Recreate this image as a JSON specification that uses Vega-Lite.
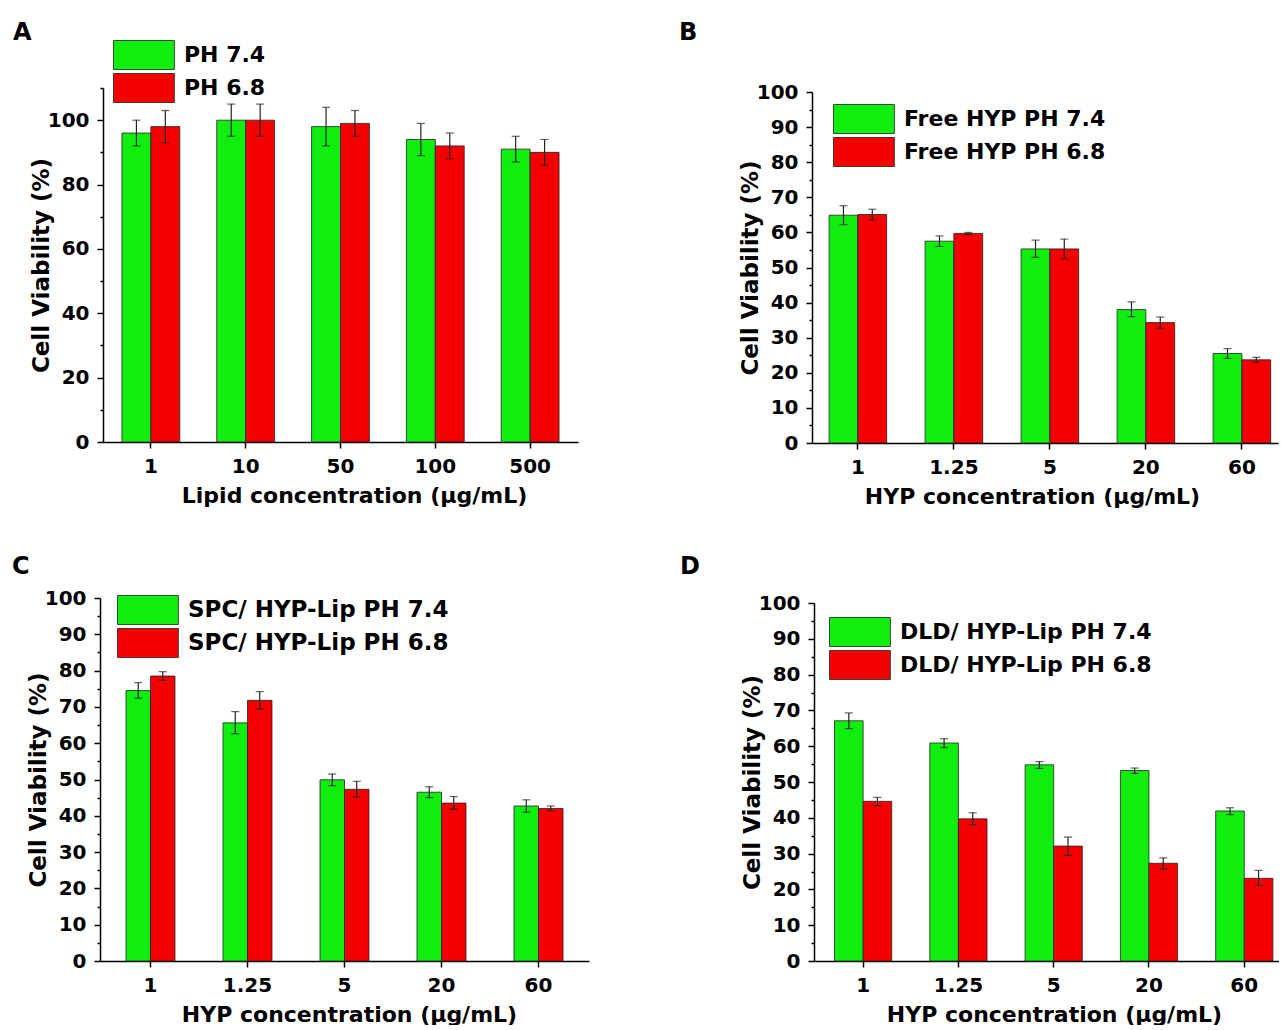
{
  "$schema": "https://vega.github.io/schema/vega-lite/v6.json",
  "padding": {"left": 12, "top": 21, "right": 0, "bottom": 0},
  "background": "white",
  "bounds": "flush",
  "spacing": 510,
  "resolve": {"scale": {"color": "independent", "x": "independent", "y": "independent", "xOffset": "independent"}, "legend": {"color": "independent"}},
  "config": {
    "font": "DejaVu Sans",
    "view": {"stroke": null},
    "axis": {"labelFont": "DejaVu Sans", "labelFontWeight": "bold", "labelFontSize": 20, "labelColor": "#000", "titleFont": "DejaVu Sans", "titleFontWeight": "bold", "titleFontSize": 22, "titleColor": "#000", "domainColor": "#000", "domainWidth": 1.5, "tickColor": "#000", "tickWidth": 1.5, "tickSize": 6, "grid": false},
    "axisX": {"labelPadding": 8, "titlePadding": 9},
    "axisY": {"titleFontSize": 23, "titlePadding": -6, "labelPadding": 8},
    "legend": {"orient": "none", "title": null, "symbolType": "M-1,-1H3.2V1H-1Z", "symbolSize": 841, "symbolStrokeColor": "#222", "symbolStrokeWidth": 1, "symbolOpacity": 1, "labelFont": "DejaVu Sans", "labelFontWeight": "bold", "labelFontSize": 22, "labelColor": "#000", "labelOffset": 41, "rowPadding": -1, "labelLimit": 600, "padding": 0},
    "title": {"anchor": "start", "frame": "group", "fontSize": 24, "fontWeight": "bold", "font": "DejaVu Sans", "color": "#000"},
    "bar": {"stroke": "#222", "strokeWidth": 0.8},
    "rule": {"color": "#222", "strokeWidth": 1.2},
    "tick": {"color": "#222", "thickness": 1.2}
  },
  "vconcat": [
    {
      "bounds": "flush",
      "spacing": 234,
      "resolve": {"scale": {"color": "independent", "x": "independent", "y": "independent", "xOffset": "independent"}, "legend": {"color": "independent"}},
      "hconcat": [
        {
          "width": 478, "height": 354,
          "title": {"text": "A", "dx": -87, "offset": -5},
          "data": {"values": [
            {"conc": "1", "series": "PH 7.4", "value": 96, "lo": 92, "hi": 100},
            {"conc": "1", "series": "PH 6.8", "value": 98, "lo": 93, "hi": 103},
            {"conc": "10", "series": "PH 7.4", "value": 100, "lo": 95, "hi": 105},
            {"conc": "10", "series": "PH 6.8", "value": 100, "lo": 95, "hi": 105},
            {"conc": "50", "series": "PH 7.4", "value": 98, "lo": 92, "hi": 104},
            {"conc": "50", "series": "PH 6.8", "value": 99, "lo": 95, "hi": 103},
            {"conc": "100", "series": "PH 7.4", "value": 94, "lo": 89, "hi": 99},
            {"conc": "100", "series": "PH 6.8", "value": 92, "lo": 88, "hi": 96},
            {"conc": "500", "series": "PH 7.4", "value": 91, "lo": 87, "hi": 95},
            {"conc": "500", "series": "PH 6.8", "value": 90, "lo": 86, "hi": 94}
          ]},
          "encoding": {
            "x": {"field": "conc", "type": "nominal", "sort": ["1", "10", "50", "100", "500"],
                  "scale": {"range": [3, 478], "paddingInner": 0.39, "paddingOuter": 0.2},
                  "axis": {"title": "Lipid concentration (μg/mL)", "labelAngle": 0, "titleX": 254}},
            "xOffset": {"field": "series", "type": "nominal", "sort": ["PH 7.4", "PH 6.8"]}
          },
          "resolve": {"axis": {"y": "independent"}},
          "layer": [
            {"mark": "bar",
             "encoding": {
               "y": {"field": "value", "type": "quantitative", "scale": {"domain": [0, 110], "nice": false},
                     "axis": {"title": "Cell Viability (%)", "values": [0, 20, 40, 60, 80, 100], "offset": -3}},
               "color": {"field": "series", "type": "nominal", "sort": ["PH 7.4", "PH 6.8"],
                         "scale": {"domain": ["PH 7.4", "PH 6.8"], "range": ["#10EE10", "#F50000"]},
                         "legend": {"legendX": 13, "legendY": -48}}
             }},
            {"mark": "rule", "encoding": {"y": {"field": "lo", "type": "quantitative", "axis": null}, "y2": {"field": "hi"}}},
            {"mark": {"type": "tick", "size": 8}, "encoding": {"y": {"field": "lo", "type": "quantitative",
               "axis": {"orient": "left", "offset": -3, "values": [10, 30, 50, 70, 90, 110], "labels": false, "domain": false, "title": null, "tickSize": 3}}}},
            {"mark": {"type": "tick", "size": 8}, "encoding": {"y": {"field": "hi", "type": "quantitative", "axis": null}}}
          ]
        },
        {
          "width": 466, "height": 355,
          "title": {"text": "B", "dx": -133, "offset": 37},
          "data": {"values": [
            {"conc": "1", "series": "Free HYP PH 7.4", "value": 64.9, "lo": 62.2, "hi": 67.6},
            {"conc": "1", "series": "Free HYP PH 6.8", "value": 65.1, "lo": 63.6, "hi": 66.6},
            {"conc": "1.25", "series": "Free HYP PH 7.4", "value": 57.5, "lo": 56.0, "hi": 59.0},
            {"conc": "1.25", "series": "Free HYP PH 6.8", "value": 59.7, "lo": 59.4, "hi": 60.0},
            {"conc": "5", "series": "Free HYP PH 7.4", "value": 55.3, "lo": 52.9, "hi": 57.8},
            {"conc": "5", "series": "Free HYP PH 6.8", "value": 55.3, "lo": 52.5, "hi": 58.1},
            {"conc": "20", "series": "Free HYP PH 7.4", "value": 38.0, "lo": 36.0, "hi": 40.2},
            {"conc": "20", "series": "Free HYP PH 6.8", "value": 34.3, "lo": 32.7, "hi": 35.9},
            {"conc": "60", "series": "Free HYP PH 7.4", "value": 25.5, "lo": 24.1, "hi": 26.9},
            {"conc": "60", "series": "Free HYP PH 6.8", "value": 23.7, "lo": 23.0, "hi": 24.4}
          ]},
          "encoding": {
            "x": {"field": "conc", "type": "nominal", "sort": ["1", "1.25", "5", "20", "60"],
                  "scale": {"paddingInner": 0.4, "paddingOuter": 0.127, "align": 0.7},
                  "axis": {"title": "HYP concentration (μg/mL)", "labelAngle": 0, "titleX": 220}},
            "xOffset": {"field": "series", "type": "nominal", "sort": ["Free HYP PH 7.4", "Free HYP PH 6.8"]}
          },
          "resolve": {"axis": {"y": "independent"}},
          "layer": [
            {"mark": "bar",
             "encoding": {
               "y": {"field": "value", "type": "quantitative", "scale": {"domain": [0, 100], "nice": false, "range": [355, 4]},
                     "axis": {"title": "Cell Viability (%)", "values": [0, 10, 20, 30, 40, 50, 60, 70, 80, 90, 100]}},
               "color": {"field": "series", "type": "nominal", "sort": ["Free HYP PH 7.4", "Free HYP PH 6.8"],
                         "scale": {"domain": ["Free HYP PH 7.4", "Free HYP PH 6.8"], "range": ["#10EE10", "#F50000"]},
                         "legend": {"legendX": 21, "legendY": 16}}
             }},
            {"mark": "rule", "encoding": {"y": {"field": "lo", "type": "quantitative", "axis": null}, "y2": {"field": "hi"}}},
            {"mark": {"type": "tick", "size": 8}, "encoding": {"y": {"field": "lo", "type": "quantitative",
               "axis": {"orient": "left", "values": [5, 15, 25, 35, 45, 55, 65, 75, 85, 95], "labels": false, "domain": false, "title": null, "tickSize": 3}}}},
            {"mark": {"type": "tick", "size": 8}, "encoding": {"y": {"field": "hi", "type": "quantitative", "axis": null}}}
          ]
        }
      ]
    },
    {
      "bounds": "flush",
      "spacing": 225,
      "resolve": {"scale": {"color": "independent", "x": "independent", "y": "independent", "xOffset": "independent"}, "legend": {"color": "independent"}},
      "hconcat": [
        {
          "width": 489, "height": 363,
          "title": {"text": "C", "dx": -88, "offset": 9},
          "data": {"values": [
            {"conc": "1", "series": "SPC/ HYP-Lip PH 7.4", "value": 74.5, "lo": 72.4, "hi": 76.7},
            {"conc": "1", "series": "SPC/ HYP-Lip PH 6.8", "value": 78.5, "lo": 77.3, "hi": 79.7},
            {"conc": "1.25", "series": "SPC/ HYP-Lip PH 7.4", "value": 65.6, "lo": 62.6, "hi": 68.7},
            {"conc": "1.25", "series": "SPC/ HYP-Lip PH 6.8", "value": 71.8, "lo": 69.4, "hi": 74.2},
            {"conc": "5", "series": "SPC/ HYP-Lip PH 7.4", "value": 49.9, "lo": 48.3, "hi": 51.5},
            {"conc": "5", "series": "SPC/ HYP-Lip PH 6.8", "value": 47.3, "lo": 45.2, "hi": 49.5},
            {"conc": "20", "series": "SPC/ HYP-Lip PH 7.4", "value": 46.5, "lo": 45.0, "hi": 48.0},
            {"conc": "20", "series": "SPC/ HYP-Lip PH 6.8", "value": 43.5, "lo": 41.8, "hi": 45.3},
            {"conc": "60", "series": "SPC/ HYP-Lip PH 7.4", "value": 42.7, "lo": 41.0, "hi": 44.4},
            {"conc": "60", "series": "SPC/ HYP-Lip PH 6.8", "value": 42.0, "lo": 41.4, "hi": 42.7}
          ]},
          "encoding": {
            "x": {"field": "conc", "type": "nominal", "sort": ["1", "1.25", "5", "20", "60"],
                  "scale": {"paddingInner": 0.495, "paddingOuter": 0.268},
                  "axis": {"title": "HYP concentration (μg/mL)", "labelAngle": 0, "titleX": 249}},
            "xOffset": {"field": "series", "type": "nominal", "sort": ["SPC/ HYP-Lip PH 7.4", "SPC/ HYP-Lip PH 6.8"]}
          },
          "resolve": {"axis": {"y": "independent"}},
          "layer": [
            {"mark": "bar",
             "encoding": {
               "y": {"field": "value", "type": "quantitative", "scale": {"domain": [0, 100], "nice": false},
                     "axis": {"title": "Cell Viability (%)", "values": [0, 10, 20, 30, 40, 50, 60, 70, 80, 90, 100]}},
               "color": {"field": "series", "type": "nominal", "sort": ["SPC/ HYP-Lip PH 7.4", "SPC/ HYP-Lip PH 6.8"],
                         "scale": {"domain": ["SPC/ HYP-Lip PH 7.4", "SPC/ HYP-Lip PH 6.8"], "range": ["#10EE10", "#F50000"]},
                         "legend": {"legendX": 17, "legendY": -3, "labelFontSize": 23}}
             }},
            {"mark": "rule", "encoding": {"y": {"field": "lo", "type": "quantitative", "axis": null}, "y2": {"field": "hi"}}},
            {"mark": {"type": "tick", "size": 8}, "encoding": {"y": {"field": "lo", "type": "quantitative",
               "axis": {"orient": "left", "values": [5, 15, 25, 35, 45, 55, 65, 75, 85, 95], "labels": false, "domain": false, "title": null, "tickSize": 3}}}},
            {"mark": {"type": "tick", "size": 8}, "encoding": {"y": {"field": "hi", "type": "quantitative", "axis": null}}}
          ]
        },
        {
          "width": 465, "height": 363,
          "title": {"text": "D", "dx": -134, "offset": 14},
          "data": {"values": [
            {"conc": "1", "series": "DLD/ HYP-Lip PH 7.4", "value": 67.1, "lo": 64.9, "hi": 69.3},
            {"conc": "1", "series": "DLD/ HYP-Lip PH 6.8", "value": 44.6, "lo": 43.4, "hi": 45.7},
            {"conc": "1.25", "series": "DLD/ HYP-Lip PH 7.4", "value": 60.9, "lo": 59.6, "hi": 62.1},
            {"conc": "1.25", "series": "DLD/ HYP-Lip PH 6.8", "value": 39.7, "lo": 38.1, "hi": 41.4},
            {"conc": "5", "series": "DLD/ HYP-Lip PH 7.4", "value": 54.8, "lo": 53.8, "hi": 55.7},
            {"conc": "5", "series": "DLD/ HYP-Lip PH 6.8", "value": 32.1, "lo": 29.5, "hi": 34.6},
            {"conc": "20", "series": "DLD/ HYP-Lip PH 7.4", "value": 53.2, "lo": 52.4, "hi": 53.9},
            {"conc": "20", "series": "DLD/ HYP-Lip PH 6.8", "value": 27.3, "lo": 25.7, "hi": 28.8},
            {"conc": "60", "series": "DLD/ HYP-Lip PH 7.4", "value": 41.9, "lo": 40.9, "hi": 42.8},
            {"conc": "60", "series": "DLD/ HYP-Lip PH 6.8", "value": 23.1, "lo": 21.1, "hi": 25.3}
          ]},
          "encoding": {
            "x": {"field": "conc", "type": "nominal", "sort": ["1", "1.25", "5", "20", "60"],
                  "scale": {"paddingInner": 0.4, "paddingOuter": 0.14, "align": 0.77},
                  "axis": {"title": "HYP concentration (μg/mL)", "labelAngle": 0, "titleX": 240}},
            "xOffset": {"field": "series", "type": "nominal", "sort": ["DLD/ HYP-Lip PH 7.4", "DLD/ HYP-Lip PH 6.8"]}
          },
          "resolve": {"axis": {"y": "independent"}},
          "layer": [
            {"mark": "bar",
             "encoding": {
               "y": {"field": "value", "type": "quantitative", "scale": {"domain": [0, 100], "nice": false, "range": [363, 5]},
                     "axis": {"title": "Cell Viability (%)", "values": [0, 10, 20, 30, 40, 50, 60, 70, 80, 90, 100]}},
               "color": {"field": "series", "type": "nominal", "sort": ["DLD/ HYP-Lip PH 7.4", "DLD/ HYP-Lip PH 6.8"],
                         "scale": {"domain": ["DLD/ HYP-Lip PH 7.4", "DLD/ HYP-Lip PH 6.8"], "range": ["#10EE10", "#F50000"]},
                         "legend": {"legendX": 15, "legendY": 19}}
             }},
            {"mark": "rule", "encoding": {"y": {"field": "lo", "type": "quantitative", "axis": null}, "y2": {"field": "hi"}}},
            {"mark": {"type": "tick", "size": 8}, "encoding": {"y": {"field": "lo", "type": "quantitative",
               "axis": {"orient": "left", "values": [5, 15, 25, 35, 45, 55, 65, 75, 85, 95], "labels": false, "domain": false, "title": null, "tickSize": 3}}}},
            {"mark": {"type": "tick", "size": 8}, "encoding": {"y": {"field": "hi", "type": "quantitative", "axis": null}}}
          ]
        }
      ]
    }
  ]
}
